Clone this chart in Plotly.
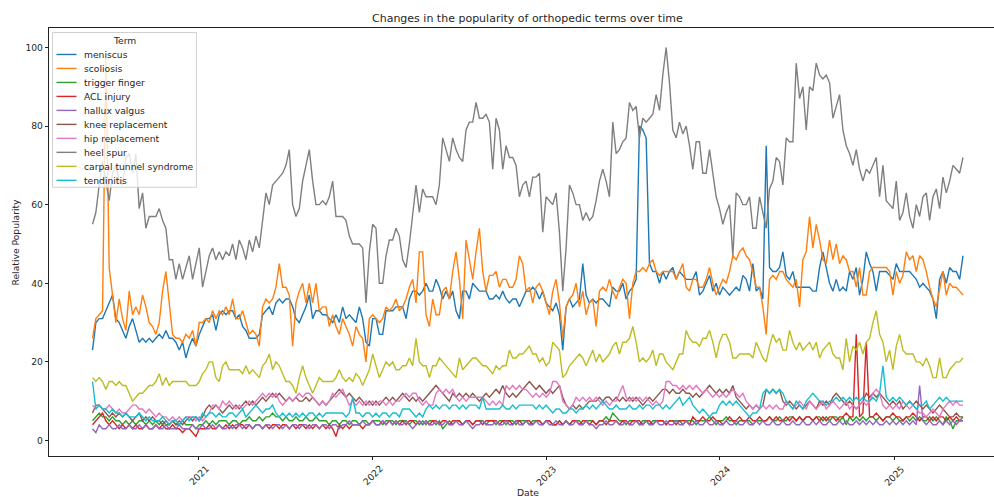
import pandas as pd
import plotly.graph_objects as go

# ---------------- data (weekly, relative popularity) ----------------
start_date = "2020-05-24"

terms = ["meniscus", "scoliosis", "trigger finger", "ACL injury", "hallux valgus",
         "knee replacement", "hip replacement", "heel spur", "carpal tunnel syndrome", "tendinitis"]

colors = ["#1f77b4", "#ff7f0e", "#2ca02c", "#d62728", "#9467bd",
          "#8c564b", "#e377c2", "#7f7f7f", "#bcbd22", "#17becf"]

meniscus = [
    23, 30, 31, 31, 33, 35, 37, 31, 30, 28,
    26, 29, 31, 28, 25, 26, 25, 26, 25, 26,
    27, 26, 28, 26, 26, 25, 23, 25, 21, 24,
    26, 24, 27, 29, 31, 31, 32, 28, 32, 33,
    32, 33, 33, 31, 32, 29, 28, 26, 26, 26,
    27, 32, 33, 34, 32, 35, 36, 35, 36, 36,
    34, 31, 30, 32, 34, 37, 31, 33, 33, 32,
    32, 31, 30, 32, 30, 34, 31, 32, 31, 30,
    34, 31, 25, 24, 31, 31, 27, 27, 33, 33,
    33, 34, 34, 34, 31, 36, 38, 38, 37, 38,
    40, 38, 38, 41, 39, 36, 38, 36, 38, 33,
    31, 38, 38, 36, 40, 39, 38, 38, 38, 36,
    36, 37, 36, 38, 36, 35, 36, 36, 34, 36,
    38, 38, 39, 38, 36, 38, 35, 34, 33, 35,
    32, 23, 34, 36, 34, 35, 36, 45, 37, 35,
    36, 35, 36, 36, 35, 34, 39, 38, 38, 40,
    36, 38, 39, 41, 80, 79, 77, 45, 43, 43,
    40, 43, 41, 43, 44, 41, 43, 42, 41, 41,
    41, 43, 37, 38, 40, 42, 38, 40, 37, 39,
    38, 37, 38, 39, 38, 42, 41, 38, 45, 38,
    39, 36, 75, 44, 43, 43, 44, 48, 42, 41,
    43, 39, 39, 39, 39, 39, 38, 38, 44, 48,
    44, 40, 38, 41, 38, 39, 38, 43, 41, 44,
    37, 41, 48, 45, 43, 38, 43, 43, 43, 42,
    41, 45, 43, 43, 43, 43, 42, 41, 39, 40,
    39, 38, 36, 31, 41, 43, 40, 44, 43, 43,
    41, 47]

scoliosis = [
    26, 31, 32, 33, 98, 44, 37, 30, 36, 31,
    28, 38, 32, 34, 32, 37, 34, 30, 29, 27,
    30, 38, 43, 34, 27, 26, 26, 25, 27, 26,
    28, 24, 30, 30, 31, 30, 33, 31, 33, 32,
    34, 32, 36, 31, 31, 33, 30, 27, 28, 27,
    24, 34, 36, 35, 36, 39, 45, 39, 39, 37,
    24, 35, 38, 40, 35, 40, 35, 40, 33, 34,
    34, 29, 32, 29, 27, 31, 29, 27, 24, 29,
    27, 26, 20, 31, 32, 31, 30, 31, 34, 33,
    34, 36, 33, 34, 36, 39, 41, 35, 48, 48,
    32, 29, 36, 32, 32, 38, 39, 36, 43, 48,
    41, 31, 51, 46, 41, 48, 54, 43, 38, 42,
    42, 43, 39, 41, 41, 39, 39, 41, 47, 45,
    38, 39, 35, 39, 40, 38, 35, 32, 38, 41,
    35, 26, 34, 36, 37, 40, 34, 38, 32, 35,
    36, 29, 38, 39, 38, 41, 38, 36, 39, 41,
    40, 31, 40, 43, 43, 44, 43, 45, 46, 43,
    42, 43, 43, 43, 43, 41, 43, 45, 39, 38,
    41, 41, 39, 39, 41, 44, 40, 37, 39, 41,
    40, 43, 47, 46, 48, 49, 47, 46, 43, 39,
    39, 34, 27, 41, 42, 41, 43, 43, 41, 40,
    39, 41, 34, 46, 48, 57, 49, 55, 51, 46,
    45, 51, 46, 50, 45, 47, 46, 43, 43, 39,
    44, 37, 37, 43, 44, 44, 44, 44, 44, 43,
    37, 43, 40, 42, 48, 46, 47, 43, 47, 46,
    43, 39, 36, 34, 39, 43, 37, 40, 39, 39,
    38, 37]

trigger_finger = [
    5, 6, 7, 6, 6, 5, 6, 5, 5, 4,
    5, 4, 5, 4, 5, 5, 4, 5, 4, 5,
    4, 5, 4, 4, 5, 4, 4, 5, 4, 4,
    4, 3, 4, 4, 5, 4, 5, 4, 5, 5,
    5, 4, 5, 5, 4, 5, 5, 6, 5, 5,
    6, 5, 6, 6, 7, 6, 6, 5, 6, 5,
    5, 6, 5, 5, 6, 5, 5, 6, 5, 5,
    5, 4, 5, 5, 4, 5, 5, 4, 5, 5,
    4, 5, 5, 4, 5, 5, 5, 4, 5, 5,
    5, 4, 5, 5, 5, 4, 5, 5, 4, 5,
    4, 5, 5, 4, 5, 3, 4, 5, 4, 5,
    5, 4, 5, 5, 4, 5, 5, 5, 4, 5,
    5, 4, 5, 5, 4, 5, 5, 4, 5, 5,
    5, 4, 5, 5, 5, 4, 5, 5, 4, 4,
    5, 4, 5, 4, 5, 5, 5, 4, 5, 5,
    5, 4, 5, 5, 6, 5, 7, 6, 5, 5,
    4, 5, 5, 5, 4, 5, 5, 4, 5, 5,
    5, 5, 4, 5, 5, 5, 5, 4, 5, 5,
    5, 4, 5, 5, 5, 6, 5, 4, 5, 5,
    6, 5, 5, 4, 5, 5, 5, 5, 4, 5,
    5, 5, 5, 6, 5, 5, 6, 5, 5, 6,
    6, 5, 6, 5, 6, 6, 5, 6, 6, 5,
    6, 5, 6, 6, 5, 6, 4, 6, 5, 6,
    5, 6, 5, 6, 6, 5, 6, 5, 6, 6,
    5, 6, 5, 5, 6, 5, 6, 5, 6, 5,
    5, 6, 5, 6, 5, 4, 6, 5, 3, 5,
    5, 6]

acl_injury = [
    4, 5, 6, 7, 5, 4, 5, 4, 3, 4,
    3, 4, 3, 4, 3, 3, 4, 3, 3, 4,
    3, 4, 3, 3, 4, 3, 3, 2, 3, 3,
    2, 1, 3, 3, 3, 4, 3, 3, 4, 3,
    4, 3, 4, 3, 4, 4, 3, 4, 3, 4,
    4, 3, 4, 3, 4, 4, 3, 4, 4, 3,
    4, 3, 4, 4, 3, 4, 3, 4, 3, 4,
    3, 4, 3, 1, 4, 3, 4, 3, 4, 4,
    4, 3, 4, 4, 5, 4, 4, 5, 4, 5,
    4, 5, 4, 5, 4, 5, 5, 4, 5, 4,
    5, 4, 5, 5, 4, 5, 5, 4, 5, 5,
    5, 4, 5, 5, 4, 5, 5, 4, 5, 5,
    5, 5, 4, 5, 5, 5, 4, 5, 5, 4,
    5, 5, 4, 5, 5, 4, 5, 5, 4, 4,
    5, 4, 5, 4, 5, 5, 4, 5, 5, 4,
    5, 4, 5, 5, 4, 5, 5, 5, 4, 5,
    5, 4, 5, 5, 5, 4, 5, 5, 4, 5,
    5, 5, 4, 5, 5, 4, 5, 5, 5, 4,
    6, 5, 5, 6, 5, 5, 6, 5, 5, 4,
    5, 6, 5, 5, 6, 5, 5, 6, 5, 5,
    6, 5, 5, 6, 5, 6, 5, 5, 6, 5,
    6, 5, 6, 5, 6, 6, 5, 6, 5, 6,
    5, 6, 6, 5, 6, 6, 7, 6, 6, 27,
    6, 7, 25, 6, 6, 7, 6, 5, 6, 6,
    7, 6, 6, 5, 6, 6, 7, 6, 5, 6,
    6, 5, 6, 5, 6, 6, 5, 6, 5, 6,
    5, 5]

hallux_valgus = [
    3, 2, 4, 3, 3, 4, 3, 3, 4, 3,
    3, 4, 3, 3, 4, 3, 4, 3, 3, 4,
    3, 3, 4, 3, 3, 3, 4, 3, 3, 3,
    4, 3, 3, 4, 3, 3, 4, 3, 4, 3,
    3, 4, 3, 4, 4, 3, 4, 4, 3, 4,
    4, 3, 4, 4, 3, 4, 4, 3, 4, 3,
    4, 4, 3, 4, 4, 3, 4, 4, 3, 4,
    4, 3, 4, 4, 3, 4, 4, 5, 4, 4,
    4, 5, 4, 4, 5, 4, 4, 5, 4, 5,
    4, 5, 4, 4, 5, 4, 3, 4, 5, 4,
    5, 4, 4, 5, 4, 4, 5, 4, 4, 5,
    4, 4, 5, 4, 3, 4, 4, 5, 4, 4,
    4, 5, 4, 4, 5, 4, 4, 5, 4, 4,
    5, 4, 4, 5, 4, 4, 5, 4, 4, 5,
    4, 4, 5, 4, 4, 5, 4, 4, 5, 4,
    4, 3, 4, 4, 5, 4, 4, 5, 4, 4,
    5, 4, 4, 5, 4, 4, 5, 4, 4, 5,
    4, 4, 5, 4, 4, 5, 4, 4, 5, 4,
    4, 5, 4, 4, 5, 4, 4, 5, 4, 4,
    5, 4, 4, 5, 4, 4, 5, 4, 4, 5,
    4, 5, 4, 4, 5, 4, 4, 5, 4, 4,
    5, 4, 4, 5, 4, 4, 5, 4, 5, 4,
    4, 5, 4, 4, 5, 4, 5, 4, 4, 5,
    4, 5, 4, 5, 4, 5, 4, 4, 5, 4,
    5, 4, 5, 4, 5, 4, 5, 4, 14, 5,
    4, 5, 4, 4, 5, 4, 5, 4, 5, 4,
    5, 5]

knee_replacement = [
    7, 9, 9, 8, 7, 6, 7, 6, 7, 6,
    7, 6, 5, 6, 7, 5, 6, 5, 6, 5,
    5, 4, 5, 4, 5, 4, 5, 4, 5, 6,
    5, 6, 5, 6, 8, 9, 8, 9, 8, 7,
    8, 9, 8, 9, 8, 9, 10, 9, 10, 9,
    10, 11, 10, 11, 12, 11, 12, 11, 10, 11,
    10, 11, 10, 10, 11, 10, 11, 10, 9, 10,
    9, 10, 11, 12, 13, 12, 11, 12, 11, 10,
    11, 10, 9, 10, 9, 10, 9, 10, 11, 10,
    11, 10, 11, 12, 11, 10, 11, 10, 11, 10,
    11, 12, 13, 14, 13, 12, 11, 10, 12, 11,
    12, 11, 12, 11, 12, 11, 10, 11, 12, 11,
    12, 13, 12, 14, 12, 11, 12, 11, 12, 13,
    14, 15, 14, 13, 14, 13, 12, 13, 12, 13,
    14, 11, 9, 8, 9, 8, 9, 8, 9, 10,
    10, 10, 11, 10, 11, 11, 10, 11, 10, 11,
    10, 11, 10, 11, 10, 9, 10, 11, 10, 11,
    12, 13, 13, 12, 13, 12, 12, 13, 12, 12,
    11, 12, 11, 12, 13, 14, 13, 12, 13, 12,
    13, 12, 14, 11, 10, 9, 8, 9, 8, 9,
    8, 9, 13, 12, 13, 12, 13, 10, 9, 10,
    9, 8, 9, 8, 9, 10, 9, 8, 10, 9,
    10, 9, 11, 12, 11, 10, 9, 10, 9, 8,
    9, 10, 12, 11, 12, 11, 12, 11, 10, 9,
    10, 9, 10, 8, 9, 10, 9, 10, 9, 8,
    9, 8, 7, 8, 9, 8, 7, 6, 6, 7,
    6, 6]

hip_replacement = [
    9, 8, 9, 8, 8, 9, 8, 7, 8, 7,
    7, 8, 9, 9, 8, 8, 7, 8, 7, 6,
    7, 6, 6, 5, 6, 5, 6, 5, 6, 6,
    6, 5, 6, 5, 6, 7, 9, 9, 8, 10,
    9, 10, 9, 8, 9, 8, 9, 10, 9, 10,
    11, 12, 11, 12, 11, 12, 10, 9, 10, 11,
    10, 11, 12, 11, 12, 12, 11, 10, 9, 10,
    9, 10, 12, 11, 12, 13, 11, 9, 10, 9,
    10, 9, 10, 9, 10, 9, 10, 10, 9, 10,
    9, 10, 10, 11, 12, 11, 12, 12, 10, 9,
    10, 9, 9, 12, 13, 12, 13, 12, 13, 11,
    10, 11, 10, 11, 11, 11, 11, 11, 10, 9,
    10, 9, 10, 9, 14, 13, 14, 13, 14, 13,
    13, 12, 11, 12, 11, 12, 11, 12, 15, 15,
    14, 10, 9, 8, 9, 11, 10, 11, 10, 11,
    10, 11, 10, 9, 10, 9, 10, 10, 12, 14,
    11, 10, 11, 10, 11, 10, 11, 10, 9, 10,
    9, 10, 15, 15, 14, 14, 13, 14, 13, 14,
    13, 14, 13, 12, 13, 12, 11, 12, 11, 12,
    11, 12, 13, 12, 11, 12, 10, 9, 8, 9,
    8, 9, 8, 9, 8, 9, 8, 8, 10, 9,
    8, 9, 10, 9, 8, 10, 9, 8, 9, 10,
    8, 9, 10, 9, 8, 9, 10, 8, 9, 8,
    9, 10, 9, 10, 12, 13, 12, 9, 8, 9,
    8, 9, 8, 10, 9, 8, 9, 8, 7, 7,
    6, 7, 8, 7, 6, 8, 9, 10, 9, 10,
    9, 9]

heel_spur = [
    55, 58, 65, 71, 66, 61, 68, 70, 66, 65,
    72, 73, 68, 73, 59, 63, 54, 57, 57, 57,
    59, 56, 54, 46, 46, 41, 45, 41, 44, 47,
    41, 45, 49, 39, 43, 47, 49, 46, 48, 46,
    48, 47, 50, 46, 51, 49, 46, 51, 48, 52,
    49, 56, 63, 60, 65, 66, 67, 68, 70, 74,
    60, 57, 59, 66, 70, 74, 66, 60, 60, 61,
    60, 62, 66, 57, 57, 57, 56, 52, 50, 50,
    50, 49, 35, 48, 55, 54, 40, 40, 47, 51,
    51, 54, 52, 46, 44, 50, 57, 65, 58, 64,
    62, 62, 62, 60, 65, 77, 74, 71, 77, 74,
    72, 71, 79, 81, 81, 86, 82, 82, 83, 81,
    69, 82, 79, 69, 75, 72, 72, 70, 62, 65,
    66, 62, 67, 67, 68, 53, 62, 61, 60, 63,
    53, 38, 49, 65, 63, 60, 60, 56, 58, 56,
    57, 61, 66, 69, 66, 62, 81, 73, 74, 76,
    77, 86, 84, 85, 77, 82, 81, 82, 83, 88,
    84, 93, 100, 91, 79, 77, 81, 78, 80, 75,
    69, 76, 76, 68, 68, 74, 68, 62, 59, 55,
    58, 60, 47, 63, 62, 60, 60, 62, 54, 54,
    62, 58, 54, 64, 66, 72, 71, 65, 77, 76,
    76, 96, 87, 90, 79, 90, 89, 96, 93, 92,
    93, 91, 82, 85, 88, 79, 75, 73, 70, 74,
    69, 66, 69, 68, 70, 72, 62, 70, 61, 60,
    59, 66, 56, 58, 63, 57, 54, 60, 57, 62,
    63, 56, 62, 64, 59, 67, 63, 66, 70, 69,
    68, 72]

carpal_tunnel_syndrome = [
    16, 15, 16, 15, 13, 15, 15, 14, 15, 14,
    14, 12, 10, 11, 12, 12, 13, 14, 14, 15,
    17, 14, 16, 14, 15, 15, 15, 15, 15, 14,
    14, 14, 15, 17, 18, 20, 20, 16, 15, 19,
    20, 18, 18, 18, 18, 17, 19, 17, 18, 17,
    16, 19, 20, 22, 18, 20, 19, 17, 15, 15,
    14, 12, 16, 19, 16, 14, 12, 14, 16, 15,
    15, 15, 15, 16, 18, 16, 15, 16, 15, 17,
    16, 14, 16, 18, 22, 19, 16, 18, 20, 19,
    20, 18, 18, 19, 19, 21, 19, 26, 20, 19,
    19, 16, 19, 19, 21, 20, 19, 18, 17, 16,
    21, 18, 19, 20, 21, 21, 20, 19, 19, 18,
    17, 19, 18, 19, 19, 23, 21, 21, 22, 22,
    23, 24, 22, 22, 20, 21, 19, 20, 25, 24,
    23, 16, 17, 19, 20, 21, 22, 21, 19, 21,
    23, 20, 22, 20, 21, 22, 24, 25, 22, 25,
    25, 26, 29, 25, 20, 21, 20, 21, 23, 19,
    22, 22, 20, 19, 18, 20, 22, 22, 28, 26,
    25, 25, 24, 26, 26, 28, 25, 21, 25, 27,
    27, 25, 21, 21, 22, 22, 22, 22, 21, 25,
    23, 21, 20, 24, 27, 25, 26, 23, 23, 28,
    25, 23, 25, 23, 24, 25, 23, 25, 21, 23,
    24, 25, 22, 21, 21, 18, 26, 20, 24, 23,
    25, 22, 25, 26, 30, 33, 27, 25, 20, 23,
    18, 24, 27, 23, 22, 22, 22, 20, 20, 19,
    21, 19, 16, 16, 21, 16, 16, 18, 19, 20,
    20, 21]

tendinitis = [
    15, 8, 9, 8, 8, 7, 8, 7, 7, 6,
    7, 6, 6, 6, 7, 6, 5, 6, 5, 5,
    5, 6, 5, 4, 5, 5, 4, 5, 6, 5,
    6, 6, 5, 7, 6, 7, 7, 6, 7, 6,
    6, 7, 7, 6, 7, 8, 6, 7, 8, 9,
    8, 7, 8, 8, 9, 7, 6, 7, 6, 7,
    6, 7, 6, 7, 6, 7, 7, 6, 7, 6,
    7, 7, 7, 7, 7, 7, 6, 7, 11, 7,
    7, 6, 7, 7, 6, 7, 6, 7, 7, 6,
    7, 7, 6, 8, 8, 8, 7, 6, 7, 6,
    8, 9, 8, 9, 8, 9, 9, 8, 9, 9,
    8, 9, 8, 9, 9, 9, 8, 11, 8, 8,
    8, 8, 8, 9, 8, 8, 9, 8, 9, 9,
    9, 9, 9, 8, 9, 8, 9, 8, 7, 8,
    8, 7, 7, 8, 8, 7, 8, 8, 9, 8,
    9, 8, 9, 10, 9, 8, 8, 9, 8, 8,
    8, 9, 8, 8, 9, 8, 9, 9, 8, 9,
    9, 8, 9, 8, 9, 10, 11, 9, 10, 11,
    9, 8, 7, 8, 7, 6, 7, 7, 9, 10,
    9, 10, 9, 10, 9, 8, 7, 6, 7, 7,
    8, 12, 13, 12, 13, 12, 13, 12, 10, 9,
    8, 10, 9, 8, 10, 11, 12, 11, 10, 10,
    9, 10, 10, 11, 10, 11, 10, 11, 10, 11,
    10, 11, 10, 10, 11, 10, 12, 19, 11, 10,
    11, 10, 11, 10, 9, 10, 9, 8, 9, 9,
    10, 8, 9, 10, 11, 10, 11, 10, 10, 10,
    10, 10]

tick_years = ["2021", "2022", "2023", "2024", "2025"]
y_ticks = [0, 20, 40, 60, 80, 100]
legend_title = "Term"
chart_title = "Changes in the popularity of orthopedic terms over time"
x_title = "Date"
y_title = "Relative Popularity"

series = [meniscus, scoliosis, trigger_finger, acl_injury, hallux_valgus,
          knee_replacement, hip_replacement, heel_spur, carpal_tunnel_syndrome, tendinitis]

n = len(heel_spur)
for name, s in zip(terms, series):
    assert len(s) == n, (name, len(s), n)

dates = pd.date_range(start_date, periods=n, freq="7D")

# ---------------- figure ----------------
W, H = 994, 497
ML, MT, MB = 48.5, 27.5, 41
full_axis_right_px = 1006.5           # the axes run past the right edge of the picture
plot_w = W - ML
plot_h = H - MT - MB

FS = 9.2      # small text size
FT = 11       # title size
LW = 1.4      # line width


def px_x(p):
    return (p - ML) / plot_w


def px_y(p):
    return (H - MB - p) / plot_h


fig = go.Figure()
for name, s, c in zip(terms, series, colors):
    fig.add_trace(go.Scatter(x=dates, y=s, mode="lines", name=name,
                             line=dict(color=c, width=LW), showlegend=False))

span = dates[-1] - dates[0]
x_left = dates[0] - 0.05 * span
x_full_right = dates[-1] + 0.05 * span
frac = plot_w / (full_axis_right_px - ML)
x_right = x_left + (x_full_right - x_left) * frac

y_min = min(min(s) for s in series)
y_max = max(max(s) for s in series)
pad = 0.05 * (y_max - y_min)

font_main = "DejaVu Sans, Arial, sans-serif"
txt = "#262626"
axc = "#222"

fig.update_layout(
    width=W, height=H,
    margin=dict(l=ML, r=0, t=MT, b=MB, autoexpand=False),
    paper_bgcolor="white", plot_bgcolor="white",
    font=dict(family=font_main, size=FS, color=txt),
    showlegend=False,
    xaxis=dict(
        type="date", range=[x_left, x_right],
        showgrid=False, zeroline=False,
        showline=True, linecolor=axc, linewidth=0.8, mirror=True,
        ticks="outside", ticklen=3.3, tickwidth=0.8, tickcolor=axc,
        tickvals=[pd.Timestamp(y + "-01-01") for y in tick_years],
        showticklabels=False,
    ),
    yaxis=dict(
        range=[y_min - pad, y_max + pad],
        showgrid=False, zeroline=False,
        showline=True, linecolor=axc, linewidth=0.8, mirror=False,
        ticks="outside", ticklen=3.3, tickwidth=0.8, tickcolor=axc,
        tickvals=y_ticks, tickfont=dict(size=FS, color=txt),
    ),
)

ann = []
shapes = []
# x tick labels, rotated 45 degrees and centred on the tick (matplotlib style)
for y in tick_years:
    ann.append(dict(x=pd.Timestamp(y + "-01-01"), y=0, xref="x", yref="paper",
                    text=y, showarrow=False, textangle=-45, yshift=-19,
                    xanchor="center", yanchor="middle", font=dict(size=FS, color=txt)))
axes_center = px_x((ML + full_axis_right_px) / 2)
ann.append(dict(x=axes_center, y=1, xref="paper", yref="paper", text=chart_title,
                showarrow=False, yshift=9.5, xanchor="center", yanchor="middle",
                font=dict(size=FT, color=txt)))
ann.append(dict(x=axes_center, y=0, xref="paper", yref="paper", text=x_title,
                showarrow=False, yshift=-36, xanchor="center", yanchor="middle",
                font=dict(size=FS, color=txt)))
ann.append(dict(x=0, y=0.5, xref="paper", yref="paper", text=y_title,
                showarrow=False, xshift=-34.5, textangle=-90, xanchor="center",
                yanchor="middle", font=dict(size=FS, color=txt)))

# legend drawn by hand (matplotlib spacing: 14 px per entry)
lg_x0, lg_x1, lg_y0, lg_y1 = 52, 196, 32, 187
shapes.append(dict(type="rect", xref="paper", yref="paper", layer="above",
                   x0=px_x(lg_x0), x1=px_x(lg_x1), y0=px_y(lg_y1), y1=px_y(lg_y0),
                   fillcolor="rgba(255,255,255,0.8)",
                   line=dict(color="rgba(204,204,204,0.9)", width=1)))
ann.append(dict(x=px_x((lg_x0 + lg_x1) / 2), y=px_y(40.5), xref="paper", yref="paper",
                text=legend_title, showarrow=False, xanchor="center", yanchor="middle",
                font=dict(size=FS, color=txt)))
for k, (name, c) in enumerate(zip(terms, colors)):
    yc = 54 + 14 * k
    shapes.append(dict(type="line", xref="paper", yref="paper", layer="above",
                       x0=px_x(56), x1=px_x(76), y0=px_y(yc), y1=px_y(yc),
                       line=dict(color=c, width=LW)))
    ann.append(dict(x=px_x(82), y=px_y(yc), xref="paper", yref="paper", text=name,
                    showarrow=False, xanchor="left", yanchor="middle",
                    font=dict(size=FS, color=txt)))

fig.update_layout(annotations=ann, shapes=shapes)

fig.write_html("out.html",
               config={"displayModeBar": False},
               post_script="document.body.style.margin='0px';"
                           "document.body.style.overflow='hidden';")
